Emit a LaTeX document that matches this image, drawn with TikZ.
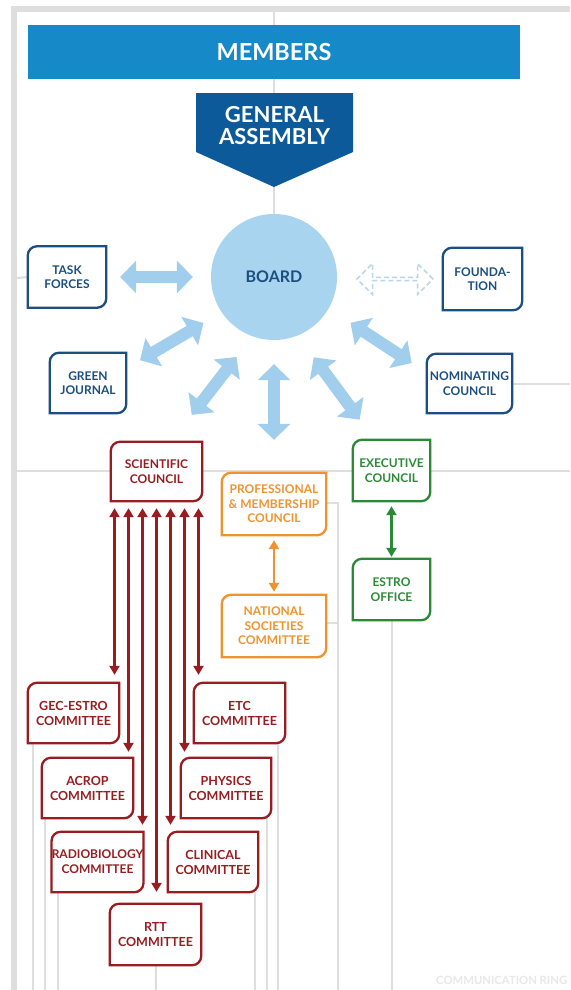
\documentclass[tikz,border=0pt]{standalone}
\usepackage{fontspec}
\setmainfont{Lato}
\usetikzlibrary{arrows.meta,shapes.arrows}
\pgfdeclarelayer{background}
\pgfsetlayers{background,main}

\definecolor{membersblue}{HTML}{1689C8}
\definecolor{assemblyblue}{HTML}{0D5A9B}
\definecolor{boardblue}{HTML}{A9D4EF}
\definecolor{arrowblue}{HTML}{A0CEEC}
\definecolor{dashblue}{HTML}{BBD6E8}
\definecolor{navy}{HTML}{1C4F7F}
\definecolor{scired}{HTML}{981C20}
\definecolor{orangeb}{HTML}{F0932E}
\definecolor{greenb}{HTML}{2C8A36}
\definecolor{ringgray}{HTML}{DEDEDE}

\begin{document}
\begin{tikzpicture}[x=1pt,y=-1pt,
  orgbox/.style={minimum width=91pt, minimum height=60pt, inner sep=0pt, align=center, fill=white,
    font=\bfseries\fontsize{12}{14.5}\selectfont},
  committee/.style={orgbox, text=scired, font=\bfseries\fontsize{12.5}{15}\selectfont},
  ringline/.style={draw=ringgray, line width=2pt},
  boardarrow/.style={draw=arrowblue, line width=12pt, >={Triangle[width=32pt,length=16pt]}, <->},
  thinarrow/.style={line width=2.2pt, >={Triangle[width=10pt,length=9pt]}, <->}]

  \clip (0,0) rectangle (570,990);

  % top
  \node[fill=membersblue, minimum width=492pt, minimum height=54pt, text=white,
        font=\bfseries\fontsize{23.5}{26}\selectfont] (members) at (274,52) {MEMBERS};
  \fill[assemblyblue] (196,93) -- (353,93) -- (353,152) -- (274,187) -- (196,152) -- cycle;
  \node[text=white, align=center, font=\bfseries\fontsize{22}{22}\selectfont] (ga) at (274.5,126) {GENERAL\\ASSEMBLY};

  \node[circle, fill=boardblue, minimum size=126pt, text=navy,
        font=\bfseries\fontsize{16}{18}\selectfont] (board) at (274,277) {BOARD};

  % blue boxes
  \node[orgbox, text=navy, minimum width=78pt, minimum height=61pt] (tf) at (67,277) {TASK\\FORCES};
  \node[orgbox, text=navy, minimum width=79pt, minimum height=62pt] (fd) at (482.5,279) {FOUNDA-\\TION};
  \node[orgbox, text=navy, minimum width=76pt] (gj) at (88,383) {GREEN\\JOURNAL};
  \node[orgbox, text=navy, minimum width=85pt, minimum height=59pt] (nc) at (469.5,383.5) {NOMINATING\\COUNCIL};

  % councils
  \node[orgbox, text=scired, minimum height=59pt] (sc) at (156.5,471.5) {SCIENTIFIC\\COUNCIL};
  \node[orgbox, text=orangeb, minimum width=104pt, minimum height=62pt] (pmc) at (274,504) {PROFESSIONAL\\\& MEMBERSHIP\\COUNCIL};
  \node[orgbox, text=orangeb, minimum width=104pt, minimum height=62pt] (nsc) at (274,626) {NATIONAL\\SOCIETIES\\COMMITTEE};
  \node[orgbox, text=greenb, minimum width=77pt, minimum height=61pt] (ec) at (391.5,470.5) {EXECUTIVE\\COUNCIL};
  \node[orgbox, text=greenb, minimum width=77pt, minimum height=61pt] (eo) at (391.5,589.5) {ESTRO\\OFFICE};

  % committees
  \node[committee] (gec) at (73.5,713) {GEC-ESTRO\\COMMITTEE};
  \node[committee] (etc) at (239.5,713) {ETC\\COMMITTEE};
  \node[committee] (acrop) at (87.5,788) {ACROP\\COMMITTEE};
  \node[committee, minimum width=90pt] (phys) at (226,788) {PHYSICS\\COMMITTEE};
  \node[committee, font=\bfseries\fontsize{12}{15}\selectfont] (radio) at (97.5,862) {RADIOBIOLOGY\\COMMITTEE};
  \node[committee, minimum width=90pt] (clin) at (213,862) {CLINICAL\\COMMITTEE};
  \node[committee, minimum height=61pt] (rtt) at (155.5,934.5) {RTT\\COMMITTEE};

  % frames: round top left and bottom right
  \foreach \n/\c in {tf/navy,fd/navy,gj/navy,nc/navy,sc/scired,pmc/orangeb,nsc/orangeb,ec/greenb,eo/greenb,
                     gec/scired,etc/scired,acrop/scired,phys/scired,radio/scired,clin/scired,rtt/scired}
    \draw[draw=\c, line width=2.3pt] (\n.north east) [rounded corners=9pt] |- (\n.south)
      [sharp corners] -| (\n.west) [rounded corners=9pt] |- (\n.north) [sharp corners] -- cycle;

  % board links
  \draw[boardarrow, shorten <=18pt, shorten >=14pt] (board.180) -- (tf.east);
  \draw[boardarrow, shorten <=21pt, shorten >=16pt] (board.214) -- (gj.21);
  \draw[boardarrow, shorten <=26pt, shorten >=34pt] (board.250) -- (sc.64);
  \draw[boardarrow, shorten <=24pt, shorten >=33pt] (board.south) -- (pmc.north);
  \draw[boardarrow, shorten <=27pt, shorten >=25pt] (board.292) -- (ec.119);
  \draw[boardarrow, shorten <=26pt, shorten >=18pt] (board.330) -- (nc.166);
  \node[double arrow, draw=dashblue, dashed, dash pattern=on 5pt off 3pt, line width=1.5pt,
        minimum height=76pt, minimum width=31pt, double arrow head extend=6pt, inner sep=0pt] (fdlink) at (395,279) {};

  % scientific council links
  \foreach \dx/\n/\s in {-42/gec/8,-28/acrop/6,-14/radio/7,0/rtt/12,14/clin/7,28/phys/6,42/etc/8}
    \draw[thinarrow, draw=scired, fill=scired, shorten <=7pt, shorten >=\s pt]
      ([xshift=\dx pt]sc.south) -- ([xshift=\dx pt]sc.south |- \n.north);

  \draw[thinarrow, draw=orangeb, fill=orangeb, shorten <=5pt, shorten >=3pt] (pmc) -- (nsc);
  \draw[thinarrow, draw=greenb, fill=greenb, shorten <=5pt, shorten >=2pt] (ec) -- (eo);

  \node[anchor=base west, text=ringgray!70, inner sep=0pt, font=\bfseries\fontsize{11.3}{12}\selectfont] (ring) at (436,984) {COMMUNICATION RING};

  % communication ring lines
  \begin{pgfonlayer}{background}
    \fill[white] (0,0) rectangle (570,990);
    \draw[draw=ringgray, line width=6pt] (11,9) -- (570,9);
    \draw[draw=ringgray, line width=6pt] (14,6) -- (14,990);
    \draw[ringline] (274,12) -- (board);
    \draw[ringline] (17,471) -- (570,471);
    \draw[ringline] (17,278) -- (tf.west);
    \draw[ringline] (nc.east) -- (570,383.5);
    \draw[ringline] (pmc.east |- 0,503) -- (338,503) -- (338,990);
    \draw[ringline] (nsc.east |- 0,623) -- (338,623);
    \draw[ringline] (eo) -- (391.5,990);
    \draw[ringline] (gec.south -| 33,0) -- (33,990);
    \draw[ringline] (acrop.south -| 45,0) -- (45,990);
    \draw[ringline] (radio.south -| 58,0) -- (58,990);
    \draw[ringline] (rtt) -- (156,990);
    \draw[ringline] (clin.south -| 255,0) -- (255,990);
    \draw[ringline] (phys.south -| 267,0) -- (267,990);
    \draw[ringline] (etc.south -| 278,0) -- (278,990);
  \end{pgfonlayer}
\end{tikzpicture}
\end{document}
